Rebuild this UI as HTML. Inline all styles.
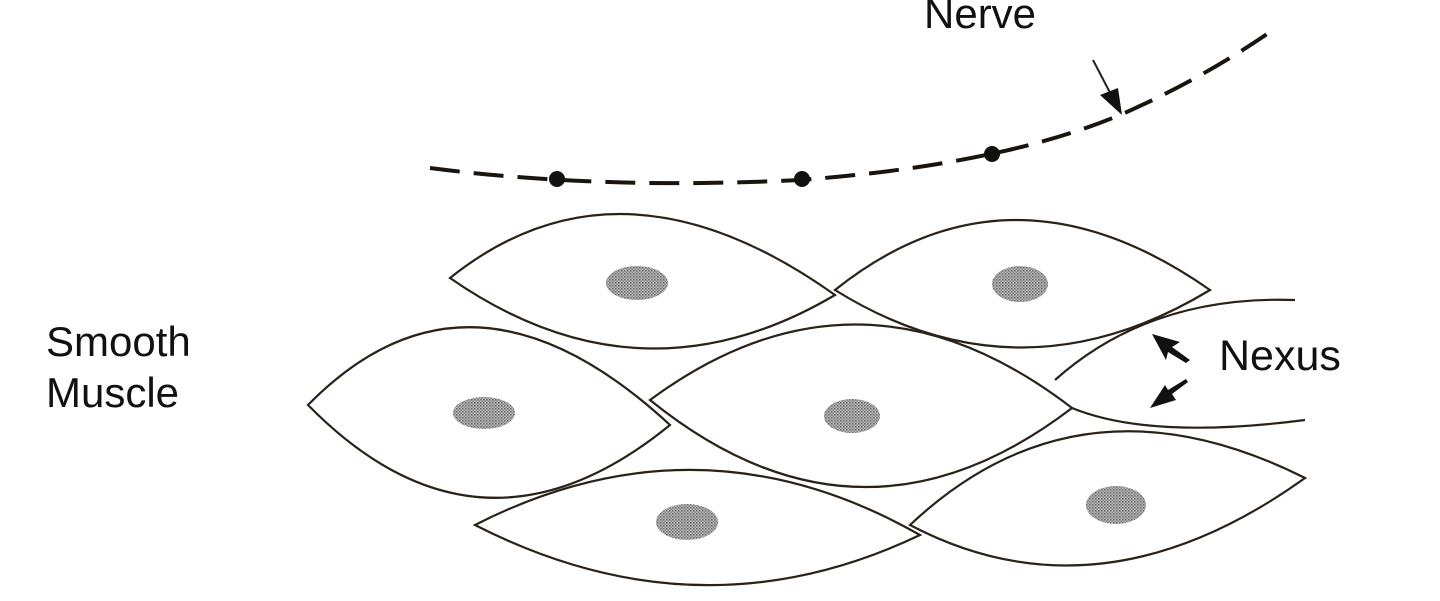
<!DOCTYPE html>
<html><head><meta charset="utf-8"><style>
html,body{margin:0;padding:0;background:#fff;width:1440px;height:601px;overflow:hidden}
svg{display:block}
text{font-family:"Liberation Sans",sans-serif;fill:#111}
</style></head><body>
<svg width="1440" height="601" viewBox="0 0 1440 601" xmlns="http://www.w3.org/2000/svg">
<defs>
<pattern id="st" width="3" height="3" patternUnits="userSpaceOnUse">
<rect width="3" height="3" fill="#bbb"/><rect width="1.5" height="1.5" fill="#666"/><rect x="1.5" y="1.5" width="1.5" height="1.5" fill="#888"/>
</pattern>
</defs>
<g fill="none" stroke="#2a2218" stroke-width="2.2">
<path d="M450,278 Q620,142 835,295 Q640,410 450,278 Z"/>
<path d="M835,290 Q1010,150 1210,290 Q1020,405 835,290 Z"/>
<path d="M308,405 Q470,240 670,425 Q480,580 308,405 Z"/>
<path d="M650,400 Q860,245 1072,408 Q860,570 650,400 Z"/>
<path d="M475,525 Q700,410 920,535 Q700,640 475,525 Z"/>
<path d="M910,525 Q1080,365 1305,478 Q1100,625 910,525 Z"/>
<path d="M1055,380 Q1150,295 1295,300"/>
<path d="M1072,408 Q1150,440 1305,420"/>
</g>
<g fill="url(#st)">
<ellipse cx="637" cy="283" rx="31" ry="17"/>
<ellipse cx="1020" cy="284" rx="28" ry="18"/>
<ellipse cx="484" cy="413" rx="31" ry="16"/>
<ellipse cx="852" cy="416" rx="28" ry="17"/>
<ellipse cx="687" cy="522" rx="31" ry="18"/>
<ellipse cx="1116" cy="505" rx="30" ry="19"/>
</g>
<path d="M430,168 Q600,190 800,180 Q1000,165 1120,115 Q1200,80 1270,32" fill="none" stroke="#1a140e" stroke-width="4" stroke-dasharray="30,14"/>
<circle cx="557" cy="179" r="8" fill="#111"/>
<circle cx="802" cy="179" r="8" fill="#111"/>
<circle cx="992" cy="154" r="8" fill="#111"/>
<line x1="1093" y1="60" x2="1118" y2="108" stroke="#222" stroke-width="2"/>
<path d="M1122,115 L1100,95 L1118,88 Z" fill="#111"/>
<path d="M1152,334 L1180,342 L1172,347 L1190,360 L1186,363 L1168,352 L1166,360 Z" fill="#111"/>
<path d="M1150,408 L1176,400 L1172,394 L1188,382 L1186,379 L1168,390 L1165,385 Z" fill="#111"/>
<text x="924" y="28" font-size="42">Nerve</text>
<text x="46" y="356" font-size="42">Smooth</text>
<text x="46" y="407" font-size="42">Muscle</text>
<text x="1219" y="370" font-size="43">Nexus</text>
</svg>
</body></html>
